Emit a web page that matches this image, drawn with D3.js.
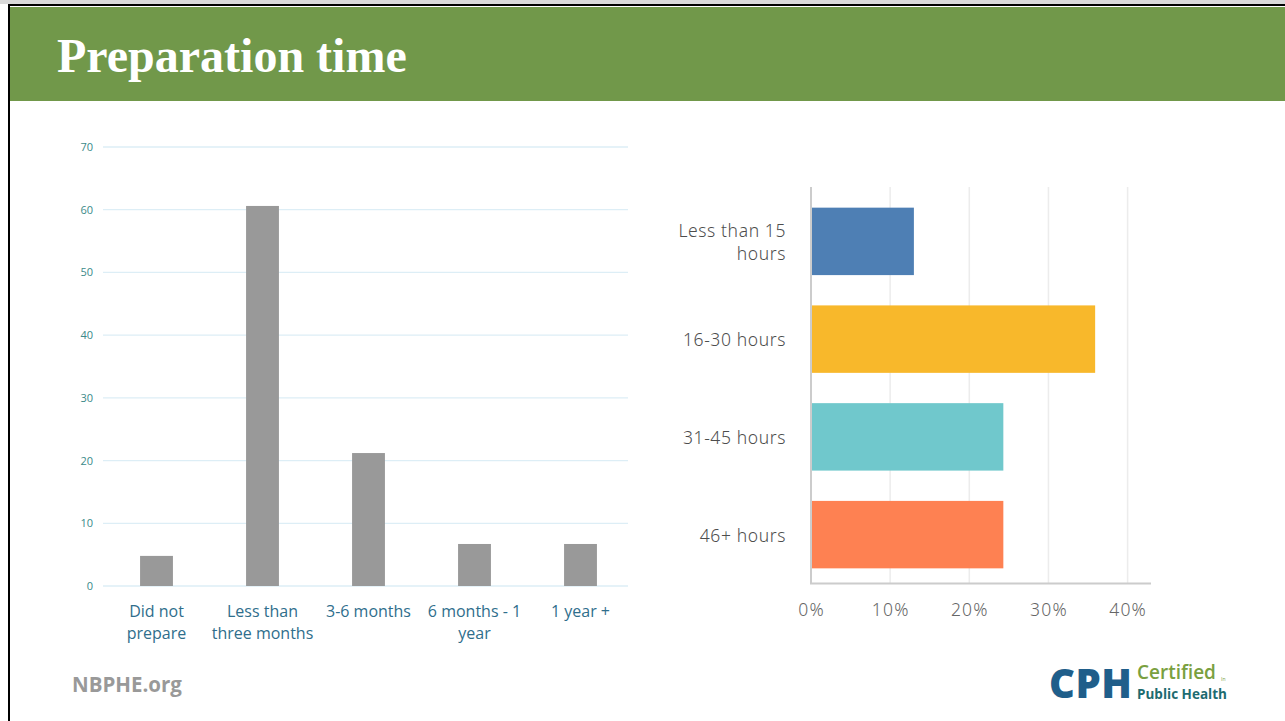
<!DOCTYPE html>
<html><head><meta charset="utf-8">
<script src="https://cdn.jsdelivr.net/npm/d3@7"></script>
<style>html,body{margin:0;padding:0;background:#fff;overflow:hidden}svg{display:block}</style>
</head><body>
<svg id="c" width="1285" height="721"></svg>
<script>
const title = "Preparation time";
const leftCategories = ["Did not prepare", "Less than three months", "3-6 months", "6 months - 1 year", "1 year +"];
const leftLabelLines = [["Did not", "prepare"], ["Less than", "three months"], ["3-6 months"], ["6 months - 1", "year"], ["1 year +"]];
const leftValues = [4.8, 60.6, 21.2, 6.7, 6.7];
const leftTicks = [0, 10, 20, 30, 40, 50, 60, 70];
const rightCategories = ["Less than 15 hours", "16-30 hours", "31-45 hours", "46+ hours"];
const rightLabelLines = [["Less than 15", "hours"], ["16-30 hours"], ["31-45 hours"], ["46+ hours"]];
const rightValues = [13.0, 35.9, 24.3, 24.3];
const rightColors = ["#4e7fb4", "#f8b82b", "#70c8cc", "#fe8152"];
const rightTicks = [0, 10, 20, 30, 40];

const svg = d3.select("#c");
// frame
svg.append("rect").attr("x",0).attr("y",0).attr("width",1285).attr("height",4).attr("fill","#d9d9d9");
svg.append("rect").attr("x",8).attr("y",4).attr("width",1277).attr("height",717).attr("fill","#000");
svg.append("rect").attr("x",10).attr("y",6).attr("width",1275).attr("height",715).attr("fill","#fff");
svg.append("rect").attr("x",10).attr("y",7).attr("width",1275).attr("height",94).attr("fill","#71984a");
svg.append("text").attr("x",57).attr("y",72).text(title)
  .attr("font-family","'Liberation Serif','DejaVu Serif',serif").attr("font-weight","bold")
  .attr("font-size",48).attr("fill","#fff");

// left chart
const lx = d3.scaleBand().domain(leftCategories).range([103.5, 633.5]).paddingInner(0.69).paddingOuter(0.345);
const ly = d3.scaleLinear().domain([0, 70]).range([586, 147]);
const lg = svg.append("g");
lg.selectAll("line.grid").data(leftTicks).join("line").attr("class","grid")
  .attr("x1",103).attr("x2",628).attr("y1",d=>ly(d)).attr("y2",d=>ly(d))
  .attr("stroke","#ddeef6").attr("stroke-width",1.3);
const yAxis = d3.axisLeft(ly).tickValues(leftTicks).tickSize(0).tickPadding(0);
const yg = lg.append("g").attr("transform","translate(93,0)").call(yAxis);
yg.select(".domain").remove();
yg.selectAll("text").attr("font-family","'Open Sans',sans-serif").attr("font-size",11).attr("fill","#3b8a8a");
lg.selectAll("rect.bar").data(leftValues).join("rect").attr("class","bar")
  .attr("x",(d,i)=>lx(leftCategories[i])).attr("width",lx.bandwidth())
  .attr("y",d=>ly(d)).attr("height",d=>ly(0)-ly(d)).attr("fill","#999999");
const xl = lg.selectAll("text.xl").data(leftLabelLines).join("text").attr("class","xl")
  .attr("x",(d,i)=>lx(leftCategories[i])+lx.bandwidth()/2).attr("y",617)
  .attr("text-anchor","middle").attr("font-family","'Open Sans',sans-serif").attr("font-size",16).attr("fill","#2f6e8c");
xl.selectAll("tspan").data(d=>d).join("tspan").attr("x",function(){return this.parentNode.getAttribute("x");})
  .attr("dy",(d,i)=>i===0?0:22).text(d=>d);

// right chart
const rx = d3.scaleLinear().domain([0, 40]).range([811, 1127.6]);
const ry = d3.scaleBand().domain(rightCategories).range([192.5, 583.5]).paddingInner(0.31).paddingOuter(0.155);
const rg = svg.append("g");
rg.selectAll("line.vg").data(rightTicks.slice(1)).join("line").attr("class","vg")
  .attr("x1",d=>rx(d)).attr("x2",d=>rx(d)).attr("y1",187).attr("y2",583)
  .attr("stroke","#ececec").attr("stroke-width",1.5);
rg.selectAll("rect.bar").data(rightValues).join("rect").attr("class","bar")
  .attr("x",rx(0)).attr("y",(d,i)=>ry(rightCategories[i])).attr("height",ry.bandwidth())
  .attr("width",d=>rx(d)-rx(0)).attr("fill",(d,i)=>rightColors[i]);
rg.append("line").attr("x1",rx(0)).attr("x2",rx(0)).attr("y1",187).attr("y2",584).attr("stroke","#cccccc").attr("stroke-width",2);
rg.append("line").attr("x1",rx(0)-1).attr("x2",1151).attr("y1",583.5).attr("y2",583.5).attr("stroke","#cccccc").attr("stroke-width",2);
const xAxis = d3.axisBottom(rx).tickValues(rightTicks).tickFormat(d=>d+"%").tickSize(0).tickPadding(0);
const xg = rg.append("g").attr("transform","translate(0,604)").call(xAxis);
xg.select(".domain").remove();
xg.selectAll("text").attr("font-family","'Noto Sans',sans-serif").attr("font-size",17.5).attr("letter-spacing",1.2).attr("font-weight",300).attr("fill","#666");
const yl = rg.selectAll("text.yl").data(rightLabelLines).join("text").attr("class","yl")
  .attr("x",786).attr("y",(d,i)=>ry(rightCategories[i])+ry.bandwidth()/2 + 7 - (d.length-1)*11.5)
  .attr("text-anchor","end").attr("font-family","'Noto Sans',sans-serif").attr("font-size",17.5).attr("letter-spacing",0.6).attr("font-weight",300).attr("fill","#4d4d4d");
yl.selectAll("tspan").data(d=>d).join("tspan").attr("x",786).attr("dy",(d,i)=>i===0?0:23).text(d=>d);

// footer
svg.append("text").attr("x",72).attr("y",692).text("NBPHE.org")
  .attr("font-family","'Open Sans',sans-serif").attr("font-weight","bold").attr("font-size",20.5).attr("fill","#999");
svg.append("text").attr("x",1049).attr("y",698).text("CPH")
  .attr("font-family","'Open Sans',sans-serif").attr("font-weight","800").attr("font-size",40).attr("fill","#1f5e8a").attr("letter-spacing",0.5);
svg.append("text").attr("x",1137).attr("y",679).text("Certified")
  .attr("font-family","'Open Sans',sans-serif").attr("font-weight","600").attr("font-size",19).attr("fill","#7aa040").attr("letter-spacing",0);
svg.append("text").attr("x",1221).attr("y",681).text("In")
  .attr("font-family","'Open Sans',sans-serif").attr("font-size",5).attr("fill","#7aa040");
svg.append("text").attr("x",1137).attr("y",699).text("Public Health")
  .attr("font-family","'Open Sans',sans-serif").attr("font-weight","bold").attr("font-size",13.5).attr("fill","#1d6b70").attr("letter-spacing",0);
</script>
</body></html>
